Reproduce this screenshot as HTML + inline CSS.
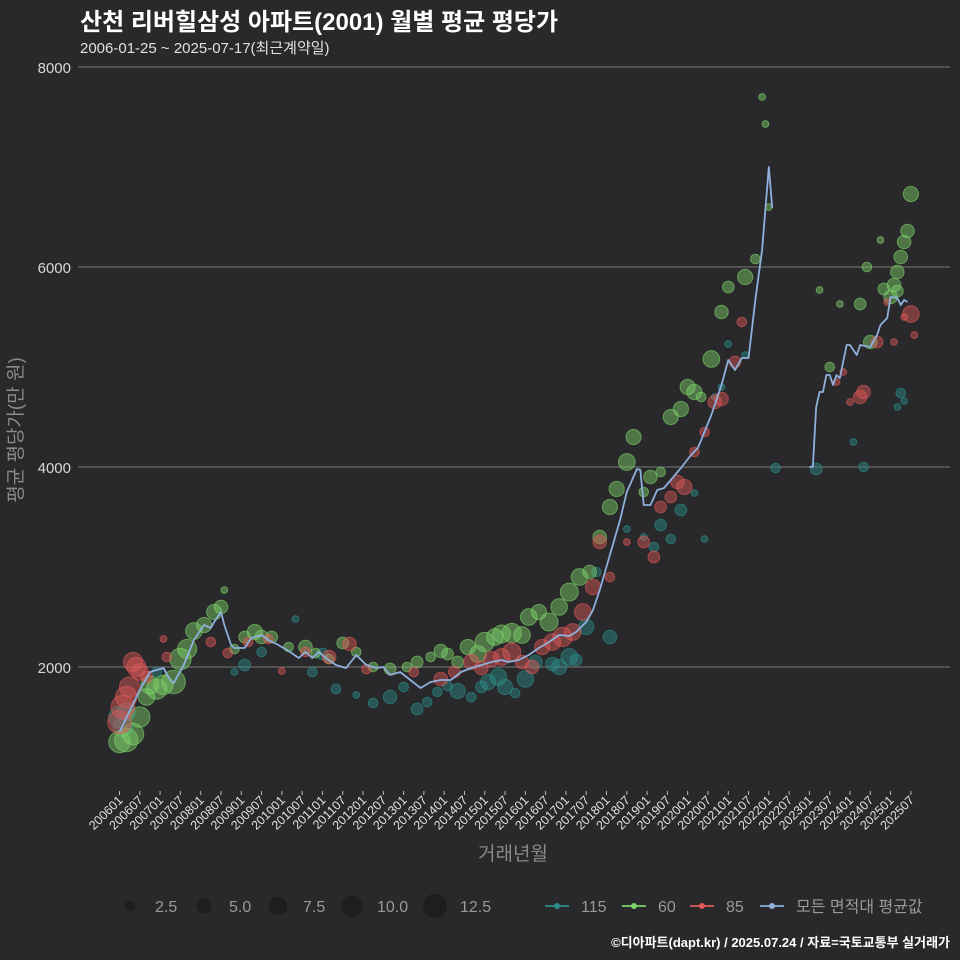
<!DOCTYPE html>
<html><head><meta charset="utf-8">
<style>
html,body{margin:0;padding:0;background:#29282a;}
svg{display:block;font-family:"Liberation Sans","Noto Sans CJK KR",sans-serif;}
</style></head>
<body>
<svg id="chart" width="960" height="960" viewBox="0 0 960 960">
<rect x="0" y="0" width="960" height="960" fill="#29282a"/>
<text x="80" y="30" fill="#ffffff" font-size="24" font-weight="bold">산천 리버힐삼성 아파트(2001) 월별 평균 평당가</text>
<text x="80" y="53" fill="#e0e0e0" font-size="15">2006-01-25 ~ 2025-07-17(최근계약일)</text>
<g id="grid"></g>
<g id="yticks"></g>
<g id="xticks"></g>
<g id="bubbles"></g>
<g id="line"></g>
<text transform="translate(22,430) rotate(-90)" text-anchor="middle" fill="#8a8a8a" font-size="19">평균 평당가(만 원)</text>
<text x="513" y="860" text-anchor="middle" fill="#8a8a8a" font-size="19">거래년월</text>
<g id="legend"></g>
<text x="950" y="947" text-anchor="end" fill="#ffffff" font-size="13" font-weight="bold">©디아파트(dapt.kr) / 2025.07.24 / 자료=국토교통부 실거래가</text>
</svg>
<script>
const yTicks = [2000, 4000, 6000, 8000];
const xTickLabels = [];
for (let y = 2006; y <= 2025; y++) { xTickLabels.push(y + "01"); xTickLabels.push(y + "07"); }
// average line: [month index since 2006-01, value]
const avgMonths = [0,6,9,13,15,16,19,22,25,27,28,30,31,33,34,37,39,42,44,47,50,53,55,57,59,61,64,67,70,73,76,78,80,83,86,89,92,95,98,101,104,107,110,113,115,118,121,124,127,130,133,135,138,140,142,145,148,150,153,154,155,157,159,161,163,166,169,171,172,175,178,180,182,184,186,188,190,192,193];
const avgValues = [1350,1770,1950,1990,1870,1840,2020,2270,2420,2390,2450,2550,2420,2220,2190,2190,2290,2320,2270,2220,2160,2090,2150,2090,2150,2090,2020,1990,2120,2020,1990,2000,1920,1950,1870,1790,1850,1870,1870,1950,1990,2020,2050,2070,2050,2070,2120,2190,2250,2320,2310,2350,2450,2570,2770,3120,3470,3750,3980,3970,3620,3620,3770,3790,3870,3990,4120,4190,4270,4520,4820,5070,4970,5090,5090,5670,6170,7000,6590];
const avgMonths2 = [204,205,206,207,208,209,210,211,212,213,215,216,218,219,222,224,225,227,228,230,231,232,233];
const avgValues2 = [4000,4000,4600,4750,4750,4920,4920,4820,4920,4890,5220,5220,5120,5220,5200,5320,5420,5490,5700,5690,5620,5670,5650];
// bubbles: [month, value, count]
const series60 = [[0,1250,10],[2,1270,12],[4,1330,10],[6,1500,9],[8,1700,6],[9,1820,7],[11,1780,9],[13,1820,8],[16,1850,12],[18,2080,10],[20,2180,8],[22,2360,6],[25,2420,5],[28,2550,5],[30,2600,4],[31,2770,1],[34,2180,2],[37,2300,3],[40,2350,5],[42,2300,4],[45,2300,3],[50,2200,2],[55,2200,4],[58,2140,2],[62,2080,2],[66,2240,3],[70,2150,2],[75,2000,2],[80,1980,3],[85,2000,2],[88,2050,3],[92,2100,2],[95,2160,4],[97,2130,3],[100,2050,3],[103,2200,5],[106,2130,6],[108,2250,8],[111,2300,6],[113,2330,7],[116,2340,8],[119,2320,6],[121,2500,6],[124,2550,5],[127,2450,7],[130,2600,6],[133,2750,7],[136,2900,6],[139,2950,4],[142,3300,4],[145,3600,5],[147,3780,5],[150,4050,6],[152,4300,5],[155,3750,2],[157,3900,4],[160,3950,2],[163,4500,5],[166,4580,5],[168,4800,5],[170,4750,5],[172,4700,2],[175,5080,6],[178,5550,4],[180,5800,3],[185,5900,5],[188,6080,2],[192,6600,1],[190,7700,1],[191,7430,1],[207,5770,1],[210,5000,2],[213,5630,1],[219,5630,3],[221,6000,2],[222,5250,4],[225,6270,1],[228,5700,4],[229,5820,4],[230,5950,4],[231,6100,4],[232,6250,4],[233,6360,4],[234,6730,5],[226,5780,3],[230,5760,3]];
const series85 = [[0,1450,12],[1,1600,12],[2,1700,10],[3,1800,9],[4,2050,8],[5,2000,8],[6,1950,6],[8,1900,3],[13,2280,1],[14,2100,2],[27,2250,2],[32,2140,2],[38,2250,2],[44,2280,2],[48,1960,1],[55,2150,2],[62,2100,4],[68,2230,4],[73,1980,2],[87,1950,2],[95,1880,4],[99,1950,3],[104,2050,5],[107,1990,4],[110,2080,5],[113,2100,6],[116,2150,7],[119,2050,4],[122,2000,4],[125,2200,5],[128,2250,6],[131,2300,8],[134,2350,6],[137,2550,6],[140,2800,5],[142,3250,4],[145,2900,2],[150,3250,1],[155,3250,3],[158,3100,3],[160,3600,3],[163,3700,3],[165,3850,4],[167,3800,5],[170,4150,2],[173,4350,2],[176,4650,4],[178,4680,4],[182,5050,3],[184,5450,2],[212,4850,1],[214,4950,1],[216,4650,1],[219,4700,4],[220,4750,4],[224,5250,3],[227,5650,1],[229,5250,1],[232,5500,1],[234,5530,6],[235,5320,1]];
const series115 = [[0,1500,10],[1,1400,8],[2,1550,7],[11,1950,2],[34,1950,1],[37,2020,3],[42,2150,2],[52,2480,1],[57,1950,2],[60,2130,3],[64,1780,2],[70,1720,1],[75,1640,2],[80,1700,4],[84,1800,2],[88,1580,3],[91,1650,2],[94,1750,2],[97,1810,2],[100,1760,5],[104,1700,2],[107,1800,3],[109,1850,5],[112,1900,6],[114,1800,5],[117,1740,2],[120,1880,6],[123,2050,4],[128,2030,4],[130,2000,5],[133,2100,6],[135,2070,3],[138,2400,5],[141,2950,2],[145,2300,4],[150,3380,1],[155,3300,1],[158,3200,2],[160,3420,3],[163,3280,2],[166,3570,3],[170,3740,1],[173,3280,1],[176,4700,1],[178,4800,1],[180,5230,1],[185,5120,1],[194,3990,2],[206,3980,3],[217,4250,1],[220,4000,2],[230,4600,1],[231,4740,2],[232,4660,1]];
const sizeLegend = [2.5, 5.0, 7.5, 10.0, 12.5];

const NS = "http://www.w3.org/2000/svg";
const X0 = 119.5, PX_PER_MONTH = 3.382, Y0 = 867, PX_PER_UNIT = 0.1;
function xScale(m){ return X0 + m * PX_PER_MONTH; }
function yScale(v){ return Y0 - v * PX_PER_UNIT; }
function rScale(n){ return 3.4 * Math.sqrt(n); }
function mk(tag, attrs, parent){ const e = document.createElementNS(NS, tag); for (const k in attrs) e.setAttribute(k, attrs[k]); parent.appendChild(e); return e; }

const grid = document.getElementById('grid'), yt = document.getElementById('yticks');
yTicks.forEach(v => {
  const l = mk('line', {x1:78, x2:950, y1:yScale(v), y2:yScale(v), stroke:'#6a6a6a', 'stroke-width':1.2}, grid);
  
  
  const t = mk('text', {x:71, y:yScale(v)+6, 'text-anchor':'end', fill:'#d8d8d8', 'font-size':15}, yt);
  t.textContent = v;
  
  
});
const xt = document.getElementById('xticks');
xTickLabels.forEach((lab, i) => {
  const x = xScale(i * 6);
  const tk = mk('line', {x1:x, x2:x, y1:791, y2:795, stroke:'#bbbbbb', 'stroke-width':1}, xt);
  
  
  const t = mk('text', {x:x+4, y:801, 'text-anchor':'end', fill:'#e0e0e0', 'font-size':12.5, transform:'rotate(-45 '+(x+4)+' 801)'}, xt);
  t.textContent = lab;
  
  
});

const bub = document.getElementById('bubbles');
function drawSeries(data, color, name){
  data.forEach(d => {
    const c = mk('circle', {cx:xScale(d[0]), cy:yScale(d[1]), r:rScale(d[2]), fill:color, 'fill-opacity':0.45, stroke:color, 'stroke-opacity':0.6, 'stroke-width':1}, bub);
    
    
  });
}
drawSeries(series115, '#2a8f8a', '115');
drawSeries(series60, '#7ed36a', '60');
drawSeries(series85, '#e05858', '85');

const lg = document.getElementById('line');
function drawLine(ms, vs){
  const p = ms.map((m,i) => xScale(m) + ',' + yScale(vs[i])).join(' ');
  const pl = mk('polyline', {points:p, fill:'none', stroke:'#8fb0dc', 'stroke-width':1.8, 'stroke-linejoin':'round'}, lg);
  
  
}
drawLine(avgMonths, avgValues);
drawLine(avgMonths2, avgValues2);

const leg = document.getElementById('legend');
const lxs = [130, 204, 278, 352, 435];
sizeLegend.forEach((s, i) => {
  const c = mk('circle', {cx:lxs[i], cy:906, r:rScale(s), fill:'#1c1c1c', 'fill-opacity':0.8}, leg);
  
  
  const t = mk('text', {x:lxs[i]+25, y:912, fill:'#9a9a9a', 'font-size':16}, leg);
  t.textContent = s.toFixed(1);
  
  
});
const cl = [['115','#2a8f8a',545],['60','#7ed36a',622],['85','#e05858',690],['모든 면적대 평균값','#8fb0dc',760]];
cl.forEach(d => {
  const l = mk('line', {x1:d[2], x2:d[2]+24, y1:906, y2:906, stroke:d[1], 'stroke-width':1.8}, leg);
  
  
  const c = mk('circle', {cx:d[2]+12, cy:906, r:3, fill:d[1]}, leg);
  
  
  const t = mk('text', {x:d[2]+36, y:912, fill:'#9a9a9a', 'font-size':16}, leg);
  t.textContent = d[0];
  
  
});
</script>
</body></html>
